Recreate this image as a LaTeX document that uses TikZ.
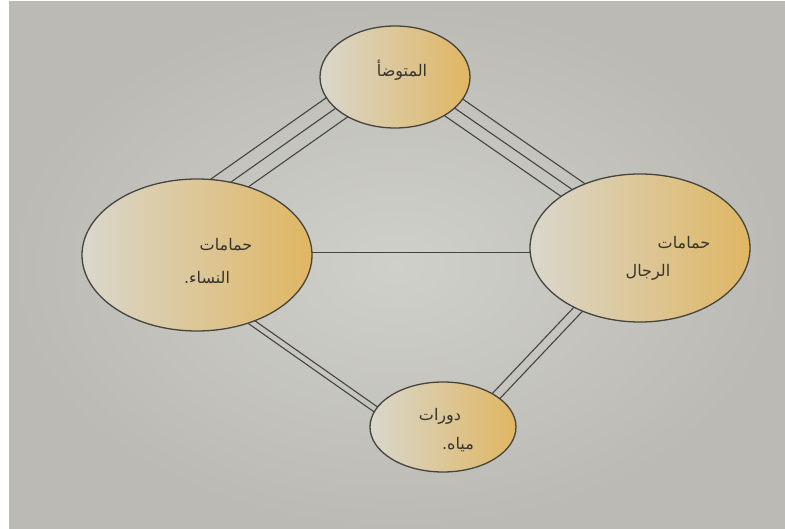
\documentclass[tikz,border=0pt]{standalone}
\usepackage{fontspec}
\usetikzlibrary{shapes.geometric,calc}
\newfontfamily\arabicfont[Script=Arabic]{DejaVu Sans}
\TeXXeTstate=1
\definecolor{paper}{HTML}{D0D0CB}
\definecolor{paperdark}{HTML}{BBBAB4}
\definecolor{pale}{HTML}{D9D7CD}
\definecolor{midtone}{HTML}{DCD2B4}
\definecolor{ochre}{HTML}{E0B662}
\definecolor{ink}{HTML}{45443F}
\definecolor{textink}{HTML}{35342F}
\pgfdeclarelayer{backlayer}
\pgfdeclarelayer{linelayer}
\pgfsetlayers{backlayer,linelayer,main}
\tikzset{
  room/.style={ellipse, draw=ink, line width=1.3pt, inner sep=0pt,
    left color=pale, middle color=midtone, right color=ochre},
  lbl/.style={font=\arabicfont\fontsize{16}{18}\selectfont, text=textink, inner sep=0pt},
  link/.style={draw=ink, line width=1.1pt}
}
\begin{document}
\begin{tikzpicture}[x=1pt,y=-1pt]
\useasboundingbox (0,0) rectangle (785,529);
\begin{pgfonlayer}{backlayer}
\fill[white] (0,0) rectangle (785,529);
\shade[inner color=paper, outer color=paperdark] (9,2) rectangle (785,529);
\end{pgfonlayer}

% rooms
\node[room, minimum width=150, minimum height=102] (top) at (395,77) {};
\node[room, minimum width=230, minimum height=152] (left) at (197,255) {};
\node[room, minimum width=220, minimum height=148] (right) at (640,248) {};
\node[room, minimum width=146, minimum height=90] (bottom) at (443,427) {};

% labels
\node[lbl] (topTxt) at (402,70) {\beginR المتوضأ\endR};
\node[lbl] (leftTxtA) at (226,245) {\beginR حمامات\endR};
\node[lbl] (leftTxtB) at (207,278) {\beginR النساء.\endR};
\node[lbl] (rightTxtA) at (684,243) {\beginR حمامات\endR};
\node[lbl] (rightTxtB) at (648,272) {\beginR الرجال\endR};
\node[lbl] (bottomTxtA) at (440,416) {\beginR دورات\endR};
\node[lbl] (bottomTxtB) at (458,445) {\beginR مياه.\endR};

% band end points (inside the rooms, covered by them)
\coordinate (tlA) at (353,96);
\coordinate (tlB) at (210.6,196.4);
\coordinate (trA) at (436.6,95.6);
\coordinate (trB) at (589.4,201.4);
\coordinate (lbA) at (236.9,311.8);
\coordinate (lbB) at (393,421.5);
\coordinate (rbA) at (591.2,295.5);
\coordinate (rbB) at (484.8,408);

\begin{pgfonlayer}{linelayer}
% top - left : three lines
\draw[link] (tlA) -- (tlB);
\draw[link] ($(tlA)!14pt!90:(tlB)$) -- ($(tlB)!14pt!-90:(tlA)$);
\draw[link] ($(tlA)!14pt!-90:(tlB)$) -- ($(tlB)!14pt!90:(tlA)$);
% top - right : three lines
\draw[link] (trA) -- (trB);
\draw[link] ($(trA)!12pt!90:(trB)$) -- ($(trB)!12pt!-90:(trA)$);
\draw[link] ($(trA)!12pt!-90:(trB)$) -- ($(trB)!12pt!90:(trA)$);
% left - bottom : two lines
\draw[link] ($(lbA)!3pt!90:(lbB)$) -- ($(lbB)!3pt!-90:(lbA)$);
\draw[link] ($(lbA)!3pt!-90:(lbB)$) -- ($(lbB)!3pt!90:(lbA)$);
% right - bottom : two lines
\draw[link] ($(rbA)!4.5pt!90:(rbB)$) -- ($(rbB)!4.5pt!-90:(rbA)$);
\draw[link] ($(rbA)!4.5pt!-90:(rbB)$) -- ($(rbB)!4.5pt!90:(rbA)$);
% left - right : single line
\draw[link, line width=0.9pt] ($(left.center)+(0,-3)$) -- ($(right.center)+(0,4)$);
\end{pgfonlayer}
\end{tikzpicture}
\end{document}
